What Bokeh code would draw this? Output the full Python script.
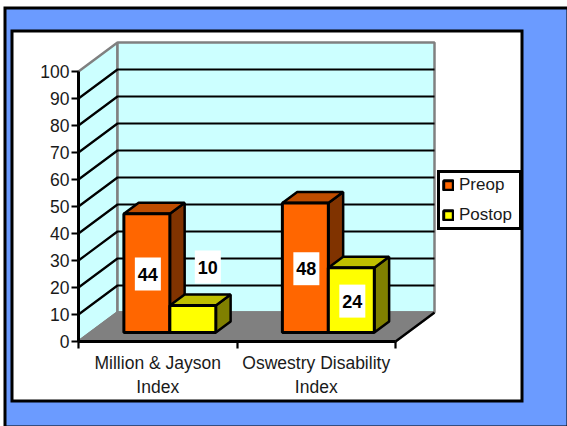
from bokeh.embed import file_html
from bokeh.resources import INLINE
from bokeh.plotting import figure
from bokeh.models import FixedTicker, Legend, LegendItem, LinearAxis, Range1d
from bokeh.core.properties import value

categories = ["Million & Jayson\nIndex", "Oswestry Disability\nIndex"]
preop = [44, 48]
postop = [10, 24]
y_ticks = [0, 10, 20, 30, 40, 50, 60, 70, 80, 90, 100]

FONT = "Liberation Sans"
TEXT = "#1a1a1a"
WALL, FLOOR, GRID_EDGE = "#CCFFFF", "#808080", "#808080"
BLUE = "#6B9BFF"

W, H = 567, 426
ORIGIN_X, ORIGIN_Y = 78, 341          # where category 0 / value 0 meet on the canvas

# oblique projection of the 3-D box, in data units
PX_PER_CAT, PX_PER_VAL = 158.5, 2.7
DEPTH_X = 39 / PX_PER_CAT
DEPTH_Y = 29 / PX_PER_VAL
BAR_D0, BAR_D1 = 0.31, 0.69
GAP = 0.21
BAR_W = (1 - 2 * GAP) / 2


def proj(x, y, d):
    return x + d * DEPTH_X, y + d * DEPTH_Y


def poly(points):
    pts = [proj(*pt) for pt in points]
    return [a for a, _ in pts], [b for _, b in pts]


def cx(px):
    return (px - ORIGIN_X) / PX_PER_CAT


def cy(py):
    return (ORIGIN_Y - py) / PX_PER_VAL


p = figure(width=W, height=H, output_backend="svg", toolbar_location=None,
           x_range=Range1d(cx(0), cx(W)), y_range=Range1d(cy(H), cy(0)),
           min_border_left=0, min_border_right=0, min_border_top=0, min_border_bottom=0,
           x_axis_type=None, y_axis_type=None,
           background_fill_color="white", border_fill_color="white",
           outline_line_color=None)
p.grid.visible = False


def panel(l, t, r, b, fill):
    p.quad(left=[cx(l)], right=[cx(r)], top=[cy(t)], bottom=[cy(b)],
           fill_color=fill, line_color=None)


panel(3, 6, 567, 426, "black")
panel(6, 9, 566, 425, BLUE)
panel(10, 29, 523, 402, "black")
panel(13, 32, 520, 399, "white")

# walls and floor
xmax = len(categories)
vmax = y_ticks[-1]
for pts, col in [
    ([(0, 0, 0), (0, vmax, 0), (0, vmax, 1), (0, 0, 1)], WALL),
    ([(0, 0, 1), (0, vmax, 1), (xmax, vmax, 1), (xmax, 0, 1)], WALL),
    ([(0, 0, 0), (0, 0, 1), (xmax, 0, 1), (xmax, 0, 0)], FLOOR),
]:
    xs, ys = poly(pts)
    p.patch(xs, ys, fill_color=col, line_color=GRID_EDGE, line_width=2.5)

for v in y_ticks[1:-1]:
    xs, ys = poly([(0, v, 0), (0, v, 1), (xmax, v, 1)])
    p.line(xs, ys, line_color="black", line_width=2.2)
xs, ys = poly([(xmax, 0, 0), (xmax, 0, 1)])
p.line(xs, ys, line_color="black", line_width=2.2)

# bars
series = [("Preop", preop, "#FF6600", "#BF4D00", "#803300", 0),
          ("Postop", postop, "#FFFF00", "#BFBF00", "#808000", 1)]
items = []
for name, vals, front, topc, sidec, k in series:
    sx, sy, tx, ty = [], [], [], []
    fl, fr, ft, fb = [], [], [], []
    for i, v in enumerate(vals):
        x0 = i + GAP + k * BAR_W
        x1 = x0 + BAR_W
        a, b = poly([(x1, 0, BAR_D0), (x1, v, BAR_D0), (x1, v, BAR_D1), (x1, 0, BAR_D1)])
        sx.append(a); sy.append(b)
        a, b = poly([(x0, v, BAR_D0), (x0, v, BAR_D1), (x1, v, BAR_D1), (x1, v, BAR_D0)])
        tx.append(a); ty.append(b)
        a, b = proj(x0, 0, BAR_D0)
        c, d = proj(x1, v, BAR_D0)
        fl.append(a); fb.append(b); fr.append(c); ft.append(d)
    p.patches(sx, sy, fill_color=sidec, line_color="black", line_width=2.5)
    p.patches(tx, ty, fill_color=topc, line_color="black", line_width=2.5)
    r = p.quad(left=fl, right=fr, top=ft, bottom=fb, fill_color=front,
               line_color="black", line_width=3)
    items.append(LegendItem(label=name, renderers=[r]))

# data labels: white boxes, as placed by the original (the "10" sits up and to the right)
lx, ly, lt = [], [], []
label_shift = {("Postop", 0): (15 / PX_PER_CAT, 52 / PX_PER_VAL)}
for name, vals, _, _, _, k in series:
    for i, v in enumerate(vals):
        dx, dy = label_shift.get((name, i), (1 / PX_PER_CAT, -1 / PX_PER_VAL))
        a, b = proj(i + GAP + (k + 0.5) * BAR_W + dx, v / 2 + dy, BAR_D0)
        lx.append(a); ly.append(b); lt.append(str(v))
p.rect(lx, ly, width=26, height=33, width_units="screen", height_units="screen",
       fill_color="white", line_color=None)
p.text(lx, ly, text=lt, text_font=value(FONT), text_font_style="bold",
       text_font_size="18px", text_align="center", text_baseline="middle",
       text_color="black")

# axes
yax = LinearAxis(fixed_location=0, ticker=FixedTicker(ticks=y_ticks), bounds=(0, vmax),
                 axis_line_width=3, major_tick_line_width=2.2, major_tick_in=0,
                 major_tick_out=7, minor_tick_line_color=None, major_label_standoff=2,
                 major_label_text_font=FONT, major_label_text_font_size="17.5px",
                 major_label_text_color=TEXT)
p.add_layout(yax, "left")

centers = [i + 0.5 for i in range(xmax)]
xax = LinearAxis(fixed_location=0,
                 ticker=FixedTicker(ticks=centers, minor_ticks=list(range(xmax + 1))),
                 bounds=(0, xmax), axis_line_width=3, major_tick_line_color=None,
                 major_tick_in=0, major_tick_out=0, minor_tick_line_width=2.2,
                 minor_tick_in=0, minor_tick_out=7, major_label_standoff=4,
                 major_label_overrides={c: l for c, l in zip(centers, categories)},
                 major_label_text_font=FONT, major_label_text_font_size="17.5px",
                 major_label_text_color=TEXT)
p.add_layout(xax, "below")

legend = Legend(items=items, location=(437, H - 230), margin=0, padding=2,
                glyph_width=12, glyph_height=12, label_standoff=5, label_height=16,
                label_width=58, spacing=10, border_line_color="black", border_line_alpha=1,
                border_line_width=3,
                background_fill_color="white", background_fill_alpha=1,
                label_text_font=FONT, label_text_font_size="17px", label_text_color=TEXT)
p.add_layout(legend, "center")

open("out.html", "w").write(file_html(p, INLINE))
